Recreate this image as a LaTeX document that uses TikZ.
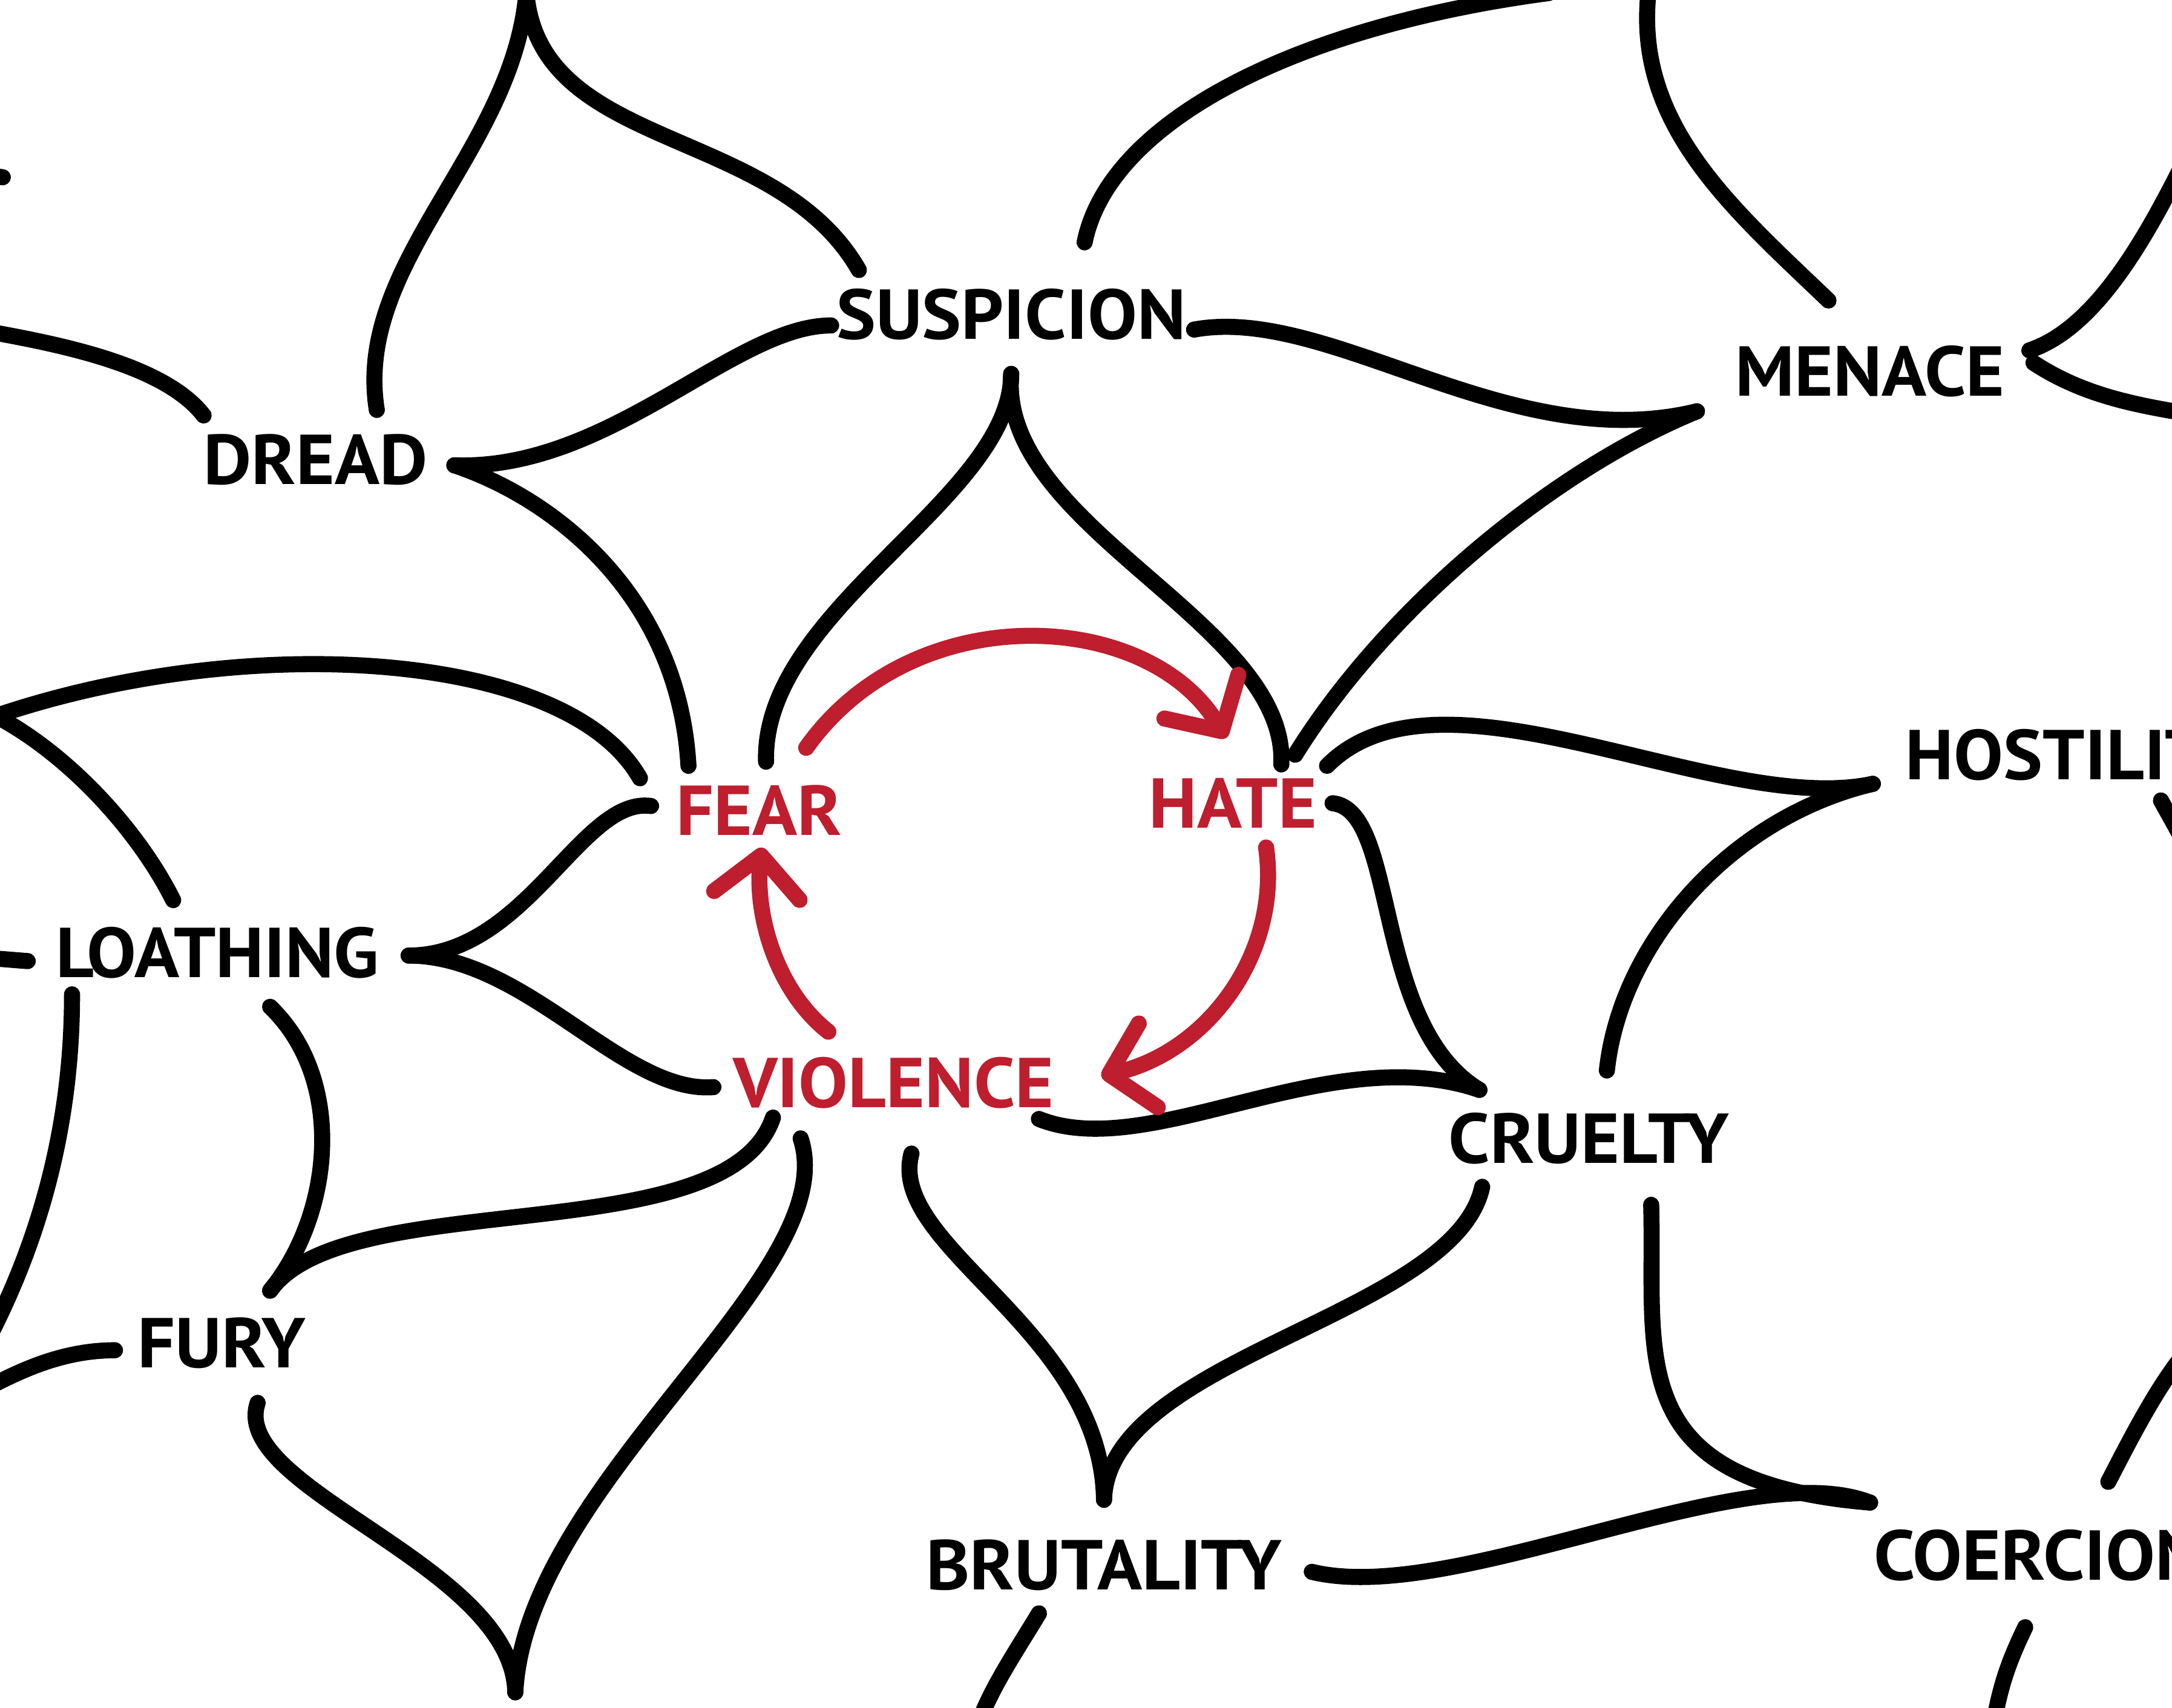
\documentclass[tikz,border=0pt]{standalone}
\usepackage{fontspec}
\setmainfont{PT Sans}[FakeStretch=1.05]
\usetikzlibrary{arrows.meta}
\definecolor{ink}{RGB}{0,0,0}
\definecolor{heat}{RGB}{190,30,46}

\begin{document}
\begin{tikzpicture}[
  word/.style={inner sep=0,font=\fontsize{14.5}{14.5}\selectfont\bfseries},
  hot/.style={word,text=heat},
  e/.style={draw=ink,line width=3.3pt,line cap=round},
  ra/.style={draw=heat,line width=3.3pt,line cap=round,-{Straight Barb[length=2.9mm,width=6.2mm,round]}}]
 \useasboundingbox (0,0) rectangle (15.68,-12.33);
 \clip (0,0) rectangle (15.68,-12.33);
 % words
 \node[word] (susp) at (7.30,-2.27) {SUSPICION};
 \node[word] (dread) at (2.28,-3.32) {DREAD};
 \node[word] (menace) at (13.50,-2.68) {MENACE};
 \node[hot] (fear) at (5.48,-5.85) {FEAR};
 \node[hot] (hate) at (8.90,-5.80) {HATE};
 \node[word] (loath) at (1.57,-6.88) {LOATHING};
 \node[hot] (viol) at (6.45,-7.82) {VIOLENCE};
 \node[word,anchor=west] (host) at (13.75,-5.45) {HOSTILITY};
 \node[word] (cruel) at (11.47,-8.22) {CRUELTY};
 \node[word] (fury) at (1.60,-9.70) {FURY};
 \node[word] (brut) at (7.97,-11.30) {BRUTALITY};
 \node[word,anchor=west] (coer) at (13.52,-11.23) {COERCION};
 % ends off the sheet
 \coordinate (topA) at (3.80,0.05);
 \coordinate (topB) at (11.18,0.05);
 \coordinate (topC) at (11.90,0.05);
 \coordinate (rightA) at (15.75,-1.20);
 \coordinate (rightB) at (15.75,-2.98);
 \coordinate (rightC) at (15.75,-9.80);
 \coordinate (rightD) at (15.75,-6.05);
 \coordinate (leftA) at (-0.03,-5.17);
 \coordinate (leftB) at (-0.05,-6.92);
 \coordinate (leftC) at (-0.05,-9.60);
 \coordinate (leftD) at (-0.05,-10.00);
 \coordinate (leftE) at (-0.05,-1.27);
 \coordinate (leftE2) at (0.02,-1.28);
 \coordinate (leftF) at (-0.05,-2.40);
 \coordinate (botA) at (3.72,-12.22);
 \coordinate (botB) at (7.08,-12.40);
 \coordinate (botC) at (14.40,-12.40);
 % dread
 \draw[e] (topA) .. controls +(-0.10,-1.15) and +(-0.17,1.06) .. ([shift={(0.44,0.36)}]dread.center);
 \draw[e] (topA) .. controls +(0.10,-1.15) and +(-0.60,1.05) .. ([shift={(-1.10,0.32)}]susp.center);
 \draw[e] (leftF) .. controls +(0.55,-0.10) and +(-0.27,0.35) .. ([shift={(-0.81,0.32)}]dread.center);
 \draw[e] ([shift={(1.00,-0.04)}]dread.center) .. controls +(1.12,-0.04) and +(-0.70,0) .. ([shift={(-1.30,-0.08)}]susp.center);
 \draw[e] ([shift={(1.00,-0.04)}]dread.center) .. controls +(0.72,-0.24) and +(-0.07,1.23) .. ([shift={(-0.51,0.32)}]fear.center);
 \draw[e] (leftE) -- (leftE2);
 % suspicion
 \draw[e] ([shift={(0,-0.43)}]susp.center) .. controls +(0,-0.90) and +(-0.03,1.10) .. ([shift={(0.05,0.35)}]fear.center);
 \draw[e] ([shift={(0,-0.43)}]susp.center) .. controls +(-0.10,-1.10) and +(0.05,1.02) .. ([shift={(0.35,0.28)}]hate.center);
 \draw[e] ([shift={(1.32,-0.11)}]susp.center) .. controls +(0.98,0.18) and +(-1.35,-0.33) .. ([shift={(-1.25,-0.29)}]menace.center);
 \draw[e] ([shift={(0.53,0.52)}]susp.center) .. controls +(0.17,0.85) and +(-1.88,-0.25) .. (topB);
 % menace
 \draw[e] ([shift={(-1.25,-0.29)}]menace.center) .. controls +(-1.05,-0.43) and +(0.65,1.05) .. ([shift={(0.45,0.35)}]hate.center);
 \draw[e] (topC) .. controls +(-0.10,-0.95) and +(-0.70,0.67) .. ([shift={(-0.30,0.51)}]menace.center);
 \draw[e] ([shift={(1.15,0.15)}]menace.center) .. controls +(0.45,0.15) and +(-0.30,-0.60) .. (rightA);
 \draw[e] ([shift={(1.18,0.06)}]menace.center) .. controls +(0.35,-0.23) and +(-0.35,0.06) .. (rightB);
 % fear
 \draw[e] ([shift={(-0.78,0.03)}]fear.center) .. controls +(-0.50,0.07) and +(0.85,0) .. ([shift={(1.38,-0.02)}]loath.center);
 \draw[e] ([shift={(-0.86,0.23)}]fear.center) .. controls +(-0.52,0.92) and +(1.83,0.62) .. (leftA);
 \draw[e] (leftA) .. controls +(0.53,-0.28) and +(-0.25,0.50) .. ([shift={(-0.32,0.38)}]loath.center);
 % loathing
 \draw[e] ([shift={(1.38,-0.02)}]loath.center) .. controls +(0.85,0) and +(-0.65,-0.05) .. ([shift={(-1.30,-0.03)}]viol.center);
 \draw[e] (leftB) -- ([shift={(-1.37,-0.06)}]loath.center);
 \draw[e] ([shift={(-1.05,-0.30)}]loath.center) .. controls +(0,-0.92) and +(0.35,0.70) .. (leftC);
 \draw[e] ([shift={(0.38,-0.39)}]loath.center) .. controls +(0.55,-0.53) and +(0.45,0.55) .. ([shift={(0.35,0.38)}]fury.center);
 % violence
 \draw[e] ([shift={(-0.87,-0.25)}]viol.center) .. controls +(-0.33,-0.98) and +(0.55,0.77) .. ([shift={(0.35,0.38)}]fury.center);
 \draw[e] ([shift={(-0.67,-0.40)}]viol.center) .. controls +(0.32,-0.98) and +(0.08,1.52) .. (botA);
 \draw[e] ([shift={(0.13,-0.51)}]viol.center) .. controls +(-0.18,-0.67) and +(-0.02,1.23) .. ([shift={(0,0.47)}]brut.center);
 \draw[e] ([shift={(1.05,-0.26)}]viol.center) .. controls +(0.80,-0.32) and +(-1.08,0.37) .. ([shift={(-0.79,0.35)}]cruel.center);
 % hate
 \draw[e] ([shift={(0.68,0.27)}]hate.center) .. controls +(0.82,0.83) and +(-1.12,-0.24) .. ([shift={(-0.23,-0.21)}]host.west);
 \draw[e] ([shift={(0.72,0)}]hate.center) .. controls +(0.48,-0.05) and +(-0.78,0.47) .. ([shift={(-0.79,0.35)}]cruel.center);
 % hostility
 \draw[e] ([shift={(-0.23,-0.21)}]host.west) .. controls +(-1.02,-0.24) and +(0.10,0.93) .. ([shift={(0.13,0.49)}]cruel.center);
 \draw[e] ([shift={(1.85,-0.33)}]host.west) -- (rightD);
 \draw[e] (rightC) .. controls +(-0.20,-0.25) and +(0.13,0.25) .. ([shift={(1.70,0.53)}]coer.west);
 % cruelty
 \draw[e] ([shift={(-0.77,-0.35)}]cruel.center) .. controls +(-0.20,-0.93) and +(0.03,1.03) .. ([shift={(0,0.47)}]brut.center);
 \draw[e] ([shift={(0.45,-0.48)}]cruel.center) .. controls +(0.03,-1.10) and +(-1.80,0.15) .. ([shift={(-0.02,0.38)}]coer.west);
 % brutality, fury, coercion
 \draw[e] ([shift={(1.50,-0.05)}]brut.center) .. controls +(1.03,-0.25) and +(-0.90,0.35) .. ([shift={(-0.02,0.38)}]coer.west);
 \draw[e] ([shift={(-0.47,-0.35)}]brut.center) .. controls +(-0.15,-0.25) and +(0.10,0.25) .. (botB);
 \draw[e] ([shift={(-0.77,-0.05)}]fury.center) .. controls +(-0.38,0) and +(0.20,0.10) .. (leftD);
 \draw[e] ([shift={(0.26,-0.43)}]fury.center) .. controls +(-0.21,-0.62) and +(-0.02,0.92) .. (botA);
 \draw[e] ([shift={(1.10,-0.52)}]coer.west) .. controls +(-0.12,-0.25) and +(0.05,0.25) .. (botC);
 % the red cycle
 \draw[ra] ([shift={(0.34,0.45)}]fear.center) .. controls +(0.78,1.10) and +(-0.55,0.93) .. ([shift={(-0.05,0.47)}]hate.center);
 \draw[ra] ([shift={(0.24,-0.32)}]hate.center) .. controls +(0.11,-0.78) and +(0.75,0.17) .. ([shift={(1.50,0.05)}]viol.center);
 \draw[ra] ([shift={(-0.47,0.37)}]viol.center) .. controls +(-0.38,0.30) and +(-0.05,-0.48) .. ([shift={(0.02,-0.27)}]fear.center);
\end{tikzpicture}
\end{document}
